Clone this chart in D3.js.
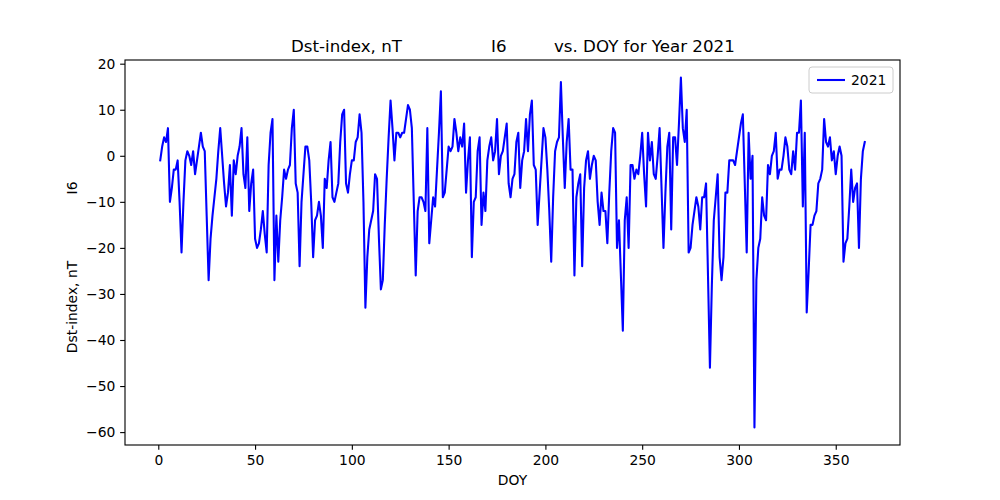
<!DOCTYPE html>
<html>
<head>
<meta charset="utf-8">
<script src="https://cdn.jsdelivr.net/npm/d3@7"></script>
<style>
  body { margin: 0; background: #fff; }
  svg { font-family: "DejaVu Sans", sans-serif; }
</style>
</head>
<body>
<svg width="1000" height="500"></svg>
<script>
// Dst-index (I6) daily values, DOY 1..365, year 2021
let dst2021 = [
  -1, 2, 4, 3, 6, -10, -7, -3, -3, -1,
  -10, -21, -10, -1, 1, 0, -2, 1, -4, -1,
  2, 5, 2, 1, -13, -27, -18, -13, -9, -5,
  1, 6, 0, -6, -11, -8, -2, -13, -1, -4,
  0, 2, 6, -4, -7, 4, -12, -6, -3, -18,
  -20, -19, -16, -12, -17, -21, -2, 5, 8, -27,
  -13, -23, -14, -9, -3, -5, -3, -2, 6, 10,
  -6, -8, -24, -10, -4, 2, 2, -1, -10, -22,
  -14, -13, -10, -13, -20, -5, -7, -1, 3, -9,
  -10, -8, -6, 3, 9, 10, -6, -8, -4, -1,
  -1, 3, 4, 9, 5, -10, -33, -22, -16, -14,
  -12, -4, -5, -18, -29, -27, -15, -5, 4, 12,
  6, -1, 5, 5, 4, 5, 5, 8, 11, 10,
  6, -10, -26, -12, -9, -9, -10, -12, 6, -19,
  -14, -9, -11, -3, 5, 14, -9, -8, -3, 2,
  1, 2, 8, 5, 1, 4, 2, 7, -8, -1,
  4, -22, -10, -9, 1, 4, -15, -8, -12, -1,
  2, 4, -1, 1, 8, -4, 0, 1, 4, 7,
  -6, -9, -5, -4, 3, 5, -7, -1, 1, 8,
  1, 9, 12, -2, -3, -15, -8, -1, 6, 4,
  -3, -12, -23, -9, 1, 3, 4, 16, 4, -7,
  3, 8, -3, -3, -26, -9, -6, -4, -24, -7,
  -1, 1, -5, -2, 0, -1, -10, -15, -8, -12,
  -12, -19, -8, 1, 6, 5, -20, -14, -26, -38,
  -14, -9, -20, -2, -2, -5, -3, -4, 0, 5,
  -4, -11, 5, -1, 3, -4, -5, 0, 6, -7,
  -20, -8, 2, 5, -16, 4, 4, -2, 7, 17,
  6, 3, 10, -21, -20, -15, -12, -9, -11, -16,
  -9, -9, -6, -26, -46, -28, -14, -9, -4, -22,
  -27, -22, -8, -8, -1, -1, -1, -2, 1, 4,
  7, 9, -6, -21, 5, -5, 0, -59, -27, -20,
  -18, -9, -13, -14, -2, -4, 0, 1, 5, -5,
  -3, -3, 0, 4, 2, -3, -4, 1, -3, 5,
  5, 12, -11, 5, -34, -25, -15, -15, -13, -12,
  -6, -5, -3, 8, 3, 2, 4, -1, 1, -4,
  0, 2, 0, -23, -19, -18, -11, -3, -10, -7,
  -6, -20, -5, 1, 3
];
let firstDoy = 1;
let seriesName = "2021";
let xTicks = [0, 50, 100, 150, 200, 250, 300, 350];
let yTicks = [-60, -50, -40, -30, -20, -10, 0, 10, 20];

let W = 1000, H = 500;
let m = { left: 125, right: 900, top: 60, bottom: 445 };
let pt = 100 / 72;

let data = dst2021.map((v, i) => ({ doy: firstDoy + i, v: v }));

function padded(lo, hi) {
    let p = (hi - lo) * 0.05;
    return [lo - p, hi + p];
}

let x = d3.scaleLinear()
    .domain(padded(d3.min(data, d => d.doy), d3.max(data, d => d.doy)))
    .range([m.left, m.right]);
let y = d3.scaleLinear()
    .domain(padded(d3.min(data, d => d.v), d3.max(data, d => d.v)))
    .range([m.bottom, m.top]);

let svg = d3.select("svg");

// line
svg.append("path")
    .datum(data)
    .attr("fill", "none")
    .attr("stroke", "#0000ff")
    .attr("stroke-width", 1.5 * pt)
    .attr("stroke-linejoin", "round")
    .attr("stroke-linecap", "square")
    .attr("d", d3.line().x(d => x(d.doy)).y(d => y(d.v)));

// axes
let fmt = d3.format("d");
let xAxis = svg.append("g")
    .attr("transform", `translate(0,${m.bottom})`)
    .call(d3.axisBottom(x).tickValues(xTicks).tickFormat(fmt)
        .tickSize(3.5 * pt).tickPadding(3.5 * pt).tickSizeOuter(0));
let yAxis = svg.append("g")
    .attr("transform", `translate(${m.left},0)`)
    .call(d3.axisLeft(y).tickValues(yTicks).tickFormat(fmt)
        .tickSize(3.5 * pt).tickPadding(3.5 * pt).tickSizeOuter(0));

[xAxis, yAxis].forEach(g => {
    g.select(".domain").remove();
    g.selectAll(".tick line").attr("stroke", "#000").attr("stroke-width", 0.8 * pt);
    g.selectAll(".tick text")
        .attr("fill", "#000")
        .style("font-family", "DejaVu Sans")
        .style("font-size", (10 * pt) + "px");
});

// frame
svg.append("rect")
    .attr("x", m.left).attr("y", m.top)
    .attr("width", m.right - m.left).attr("height", m.bottom - m.top)
    .attr("fill", "none")
    .attr("stroke", "#000")
    .attr("stroke-width", 0.8 * pt);

// title
let title = svg.append("text")
    .attr("y", 51.5)
    .style("font-size", (12 * pt) + "px")
    .attr("fill", "#000");
title.append("tspan").attr("x", 291).text("Dst-index, nT");
title.append("tspan").attr("x", 491).text("I6");
title.append("tspan").attr("x", 554).text("vs. DOY for Year 2021");

// axis labels
svg.append("text")
    .attr("x", (m.left + m.right) / 2)
    .attr("y", 485)
    .attr("text-anchor", "middle")
    .style("font-size", (10 * pt) + "px")
    .text("DOY");

svg.append("text")
    .attr("transform", "translate(77,307) rotate(-90)")
    .attr("text-anchor", "middle")
    .style("font-size", (10 * pt) + "px")
    .text("Dst-index, nT");
svg.append("text")
    .attr("transform", "translate(77,188) rotate(-90)")
    .attr("text-anchor", "middle")
    .style("font-size", (10 * pt) + "px")
    .text("I6");

// legend
let lg = svg.append("g").attr("transform", "translate(809,67)");
lg.append("rect")
    .attr("width", 84).attr("height", 26)
    .attr("rx", 3).attr("ry", 3)
    .attr("fill", "#fff").attr("fill-opacity", 0.8)
    .attr("stroke", "#cccccc").attr("stroke-width", 1);
lg.append("line")
    .attr("x1", 8).attr("x2", 36).attr("y1", 13).attr("y2", 13)
    .attr("stroke", "#0000ff").attr("stroke-width", 1.5 * pt);
lg.append("text")
    .attr("x", 42).attr("y", 18)
    .style("font-size", (10 * pt) + "px")
    .text(seriesName);
</script>
</body>
</html>
